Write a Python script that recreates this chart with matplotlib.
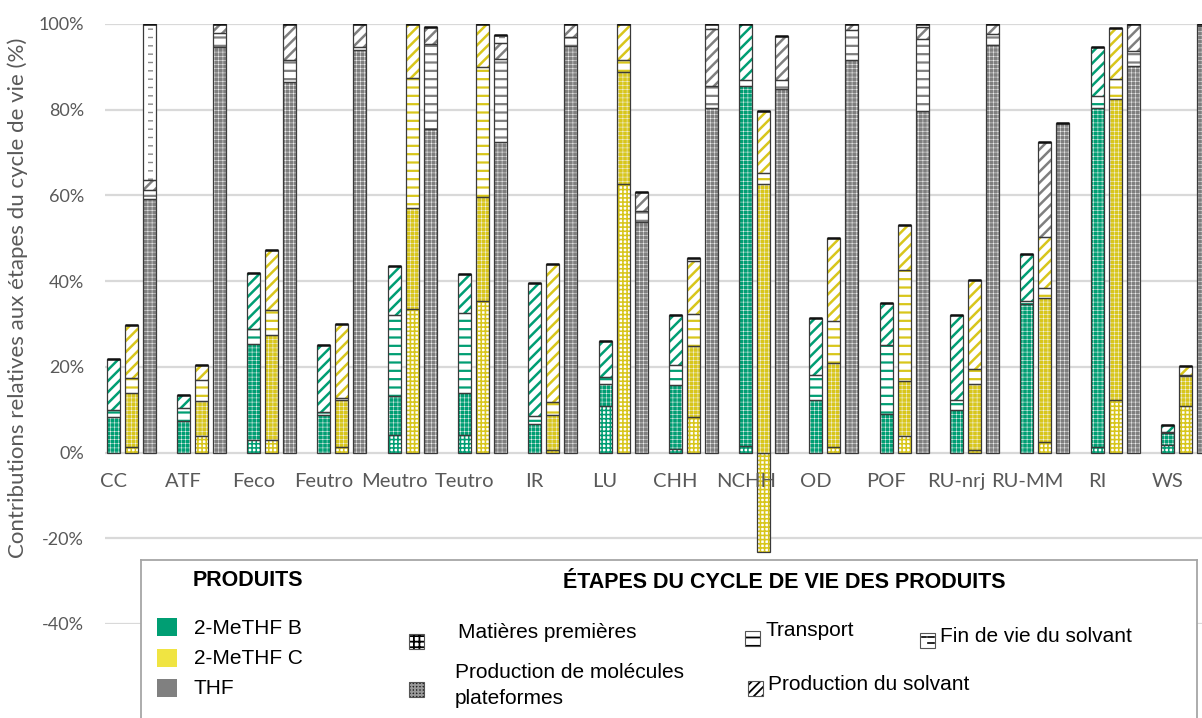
import matplotlib
matplotlib.use('Agg')
import matplotlib.pyplot as plt
from matplotlib.patches import Rectangle
import numpy as np

# ---------------- data (percent) ----------------
categories = ['CC', 'ATF', 'Feco', 'Feutro', 'Meutro', 'Teutro', 'IR', 'LU',
              'CHH', 'NCHH', 'OD', 'POF', 'RU-nrj', 'RU-MM', 'RI', 'WS']
products = ['2-MeTHF B', '2-MeTHF C', 'THF']
stages = ['Matières premières', 'Production de molécules plateformes',
          'Transport', 'Production du solvant', 'Fin de vie du solvant']

# 2-MeTHF B
b_mat   = [0, 0, 3.0, 0, 4.0, 4.0, 0, 10.8, 0.9, 1.5, 0, 0, 0, 0, 1.3, 1.7]
b_plat  = [8.3, 7.4, 22.4, 8.7, 9.2, 9.8, 6.6, 5.3, 14.8, 84.0, 12.2, 9.1, 9.9, 34.6, 79.0, 2.9]
b_trans = [1.7, 2.9, 3.5, 0.8, 18.9, 18.7, 1.9, 1.6, 4.8, 1.5, 5.9, 16.0, 2.3, 0.7, 2.9, 0.3]
b_solv  = [11.9, 3.1, 12.9, 15.6, 11.5, 9.1, 31.1, 8.3, 11.7, 13.0, 13.4, 9.8, 19.9, 11.0, 11.5, 1.6]
b_fin   = [0] * 16

# 2-MeTHF C
c_mat   = [1.3, 3.8, 2.9, 1.3, 33.4, 35.3, 0.5, 62.6, 8.4, -23.3, 1.3, 3.8, 0.7, 2.5, 12.2, 10.8]
c_plat  = [12.6, 8.2, 24.5, 10.9, 23.6, 24.4, 8.2, 26.2, 16.4, 62.6, 19.5, 12.9, 15.2, 33.5, 70.2, 7.0]
c_trans = [3.4, 5.0, 5.8, 0.6, 30.5, 30.3, 3.0, 2.7, 7.5, 2.6, 9.9, 25.9, 3.7, 2.3, 4.7, 0.3]
c_solv  = [12.4, 3.5, 14.0, 17.2, 12.5, 10.0, 32.2, 8.5, 12.5, 14.5, 19.4, 10.6, 20.6, 11.9, 12.0, 2.1]
c_fin   = [0, 0, 0, 0, 0, 0, 0, 0, 0.5, 0, 0, 0, 0, 0, 0, 0]
c_solv_thf_style = [0, 0, 0, 0, 0, 0, 0, 0, 0, 0, 0, 0, 0, 22.3, 0, 0]  # grey-hatched piece on top

# THF
t_mat   = [0] * 16
t_plat  = [59.1, 94.7, 86.5, 93.9, 75.6, 72.4, 94.9, 53.8, 80.3, 84.8, 91.6, 79.7, 95.1, 77.0, 90.2, 99.5]
t_trans = [2.1, 3.1, 5.1, 0.8, 19.7, 19.4, 2.0, 2.5, 5.2, 2.2, 7.0, 16.7, 2.5, 0, 3.5, 0.5]
t_solv  = [2.4, 2.2, 8.4, 5.3, 4.1, 3.7, 3.1, 4.4, 13.3, 10.3, 1.4, 3.0, 2.4, 0, 6.3, 0]
t_fin   = [36.4, 0, 0, 0, 0, 1.9, 0, 0, 1.2, 0, 0, 0.6, 0, 0, 0, 0]

series = [
    [b_mat, b_plat, b_trans, b_solv, b_fin],
    [c_mat, c_plat, c_trans, c_solv, c_fin],
    [t_mat, t_plat, t_trans, t_solv, t_fin],
]

# ---------------- style ----------------
prod_colors = ['#009E73', '#D8C61C', '#7f7f7f']
legend_colors = ['#009E73', '#F0E442', '#808080']
OUTLINE = '#3a3a3a'
TXT = '#595959'

W, H = 1202, 718
fig = plt.figure(figsize=(W / 100, H / 100), dpi=100)
ax = fig.add_axes([105 / W, 1 - 624 / H, (W - 105) / W, 600 / H])
ax.set_xlim(-0.37, 15.235)
ax.set_ylim(-40, 100)

off = 0.256
bw = 0.185
n = len(categories)
idx = np.arange(n)


def draw_segment(x, h, bottom, stage, color):
    """Draw one stacked segment with the stage pattern."""
    if stage == 0:      # raw materials: grid on white
        face, hcol, hatch, hlw = 'white', color, '++++', 1.15
    elif stage == 1:    # platform molecules: dense
        face, hcol, hatch, hlw = color, '#f4f4f4', '++++', 0.35
    elif stage == 2:    # transport: horizontal lines
        face, hcol, hatch, hlw = 'white', color, '--', 1.6
    elif stage == 3:    # solvent production: diagonal
        face, hcol, hatch, hlw = 'white', color, '///', 1.8
    else:               # end of life
        face, hcol, hatch, hlw = 'white', 'white', None, 0.5
    plt.rcParams['hatch.linewidth'] = hlw
    bars = ax.bar(x, h, bw, bottom=bottom, color=face, edgecolor=hcol,
                  hatch=hatch, linewidth=0, zorder=2)
    for p in bars:
        if hasattr(p, 'set_hatch_linewidth'):
            p.set_hatch_linewidth(hlw)
    if stage == 4:
        plt.rcParams['hatch.linewidth'] = 1.0
        inner = ax.bar(x + bw * 0.12, h, bw * 0.42, bottom=bottom, fill=False,
                       edgecolor='#8a8a8a', hatch='--', linewidth=0, zorder=2.5)
        for p in inner:
            if hasattr(p, 'set_hatch_linewidth'):
                p.set_hatch_linewidth(1.0)
    ax.bar(x, h, bw, bottom=bottom, fill=False, edgecolor=OUTLINE,
           linewidth=0.9, zorder=3)


for pi, stage_vals in enumerate(series):
    xs = idx + (pi - 1) * off
    pos_b = np.zeros(n)
    neg_b = np.zeros(n)
    for si, vals in enumerate(stage_vals):
        v = np.asarray(vals, dtype=float)
        for k in range(n):
            if v[k] == 0:
                continue
            if v[k] > 0:
                draw_segment(xs[k], v[k], pos_b[k], si, prod_colors[pi])
                pos_b[k] += v[k]
            else:
                draw_segment(xs[k], v[k], neg_b[k], si, prod_colors[pi])
                neg_b[k] += v[k]
    if pi == 1:
        v = np.asarray(c_solv_thf_style, dtype=float)
        for k in range(n):
            if v[k] > 0:
                draw_segment(xs[k], v[k], pos_b[k], 3, prod_colors[2])
                pos_b[k] += v[k]
    # thick top edge
    for k in range(n):
        if pos_b[k] > 0:
            ax.plot([xs[k] - bw / 2, xs[k] + bw / 2], [pos_b[k], pos_b[k]],
                    color='#111111', lw=1.8, zorder=4, solid_capstyle='butt')

# axes cosmetics
for s in ax.spines.values():
    s.set_visible(False)
ax.set_yticks(np.arange(-40, 101, 20))
ax.set_yticklabels([f'{v}%' for v in range(-40, 101, 20)],
                   fontfamily='Lato', fontsize=13, color=TXT)
ax.tick_params(axis='y', length=0, pad=15)
ax.set_xticks([])
ax.yaxis.grid(True, color='#d9d9d9', lw=1.6)
ax.set_axisbelow(True)

for k, cat in enumerate(categories):
    ax.annotate(cat, (idx[k] - off, 0), xytext=(0, -20.5), textcoords='offset points',
                ha='center', va='center', fontfamily='Lato', fontsize=14.5,
                color=TXT, annotation_clip=False)

fig.text(18 / W, 1 - 298 / H, 'Contributions relatives aux étapes du cycle de vie (%)',
         rotation=90, ha='center', va='center', fontfamily='Lato',
         fontsize=16, color=TXT)

# ---------------- legend panel ----------------
lax = fig.add_axes([141 / W, 1 - 722 / H, (1197 - 141) / W, (722 - 560) / H])
lax.set_xlim(141, 1197)
lax.set_ylim(722, 560)
lax.set_xticks([])
lax.set_yticks([])
for s in lax.spines.values():
    s.set_color('#a6a6a6')
    s.set_linewidth(1.3)
lax.set_facecolor('white')

LF = 'Liberation Sans'
lax.text(248, 581, 'PRODUITS', ha='center', va='center', fontfamily=LF,
         fontweight='bold', fontsize=15.5)
lax.text(784, 583, 'ÉTAPES DU CYCLE DE VIE DES PRODUITS', ha='center', va='center',
         fontfamily=LF, fontweight='bold', fontsize=15.5)

for j, (name, col) in enumerate(zip(products, legend_colors)):
    yc = 627 + j * 30.5
    lax.add_patch(Rectangle((157, yc - 9), 20, 18, facecolor=col, edgecolor='none'))
    lax.text(194, yc + 1, name, ha='left', va='center', fontfamily=LF, fontsize=15)


def legend_icon(x0, yc, stage, size=15):
    if stage == 0:
        face, hcol, hatch = 'white', 'black', '+++'
    elif stage == 1:
        face, hcol, hatch = '#222222', '#999999', '+++++'
    elif stage == 2:
        face, hcol, hatch = 'white', 'black', '--'
    elif stage == 3:
        face, hcol, hatch = 'white', 'black', '////'
    else:
        face, hcol, hatch = 'white', 'black', None
    plt.rcParams['hatch.linewidth'] = 1.3
    r = Rectangle((x0, yc - size / 2), size, size, facecolor=face, edgecolor=hcol,
                  hatch=hatch, linewidth=0)
    if hasattr(r, 'set_hatch_linewidth'):
        r.set_hatch_linewidth(1.3)
    lax.add_patch(r)
    lax.add_patch(Rectangle((x0, yc - size / 2), size, size, fill=False,
                            edgecolor='#555555', linewidth=0.8))
    if stage == 4:
        for dy in (-3, 3):
            lax.plot([x0 + size * 0.55, x0 + size * 0.9], [yc + dy, yc + dy],
                     color='black', lw=1.2)
        lax.plot([x0 + size * 0.1, x0 + size * 0.4], [yc - 3, yc - 3],
                 color='black', lw=1.2)


legend_icon(409, 641, 0)
lax.text(458, 633, stages[0], ha='left', va='center', fontfamily=LF, fontsize=15)
legend_icon(409, 689, 1)
lax.text(455, 673, 'Production de molécules', ha='left', va='center', fontfamily=LF, fontsize=15)
lax.text(455, 698, 'plateformes', ha='left', va='center', fontfamily=LF, fontsize=15)
legend_icon(745, 638, 2)
lax.text(765, 631, stages[2], ha='left', va='center', fontfamily=LF, fontsize=15)
legend_icon(920, 640, 4)
lax.text(940, 637, stages[4], ha='left', va='center', fontfamily=LF, fontsize=15)
legend_icon(748, 688, 3)
lax.text(768, 684, stages[3], ha='left', va='center', fontfamily=LF, fontsize=15)

fig.savefig('out.png', dpi=100)
